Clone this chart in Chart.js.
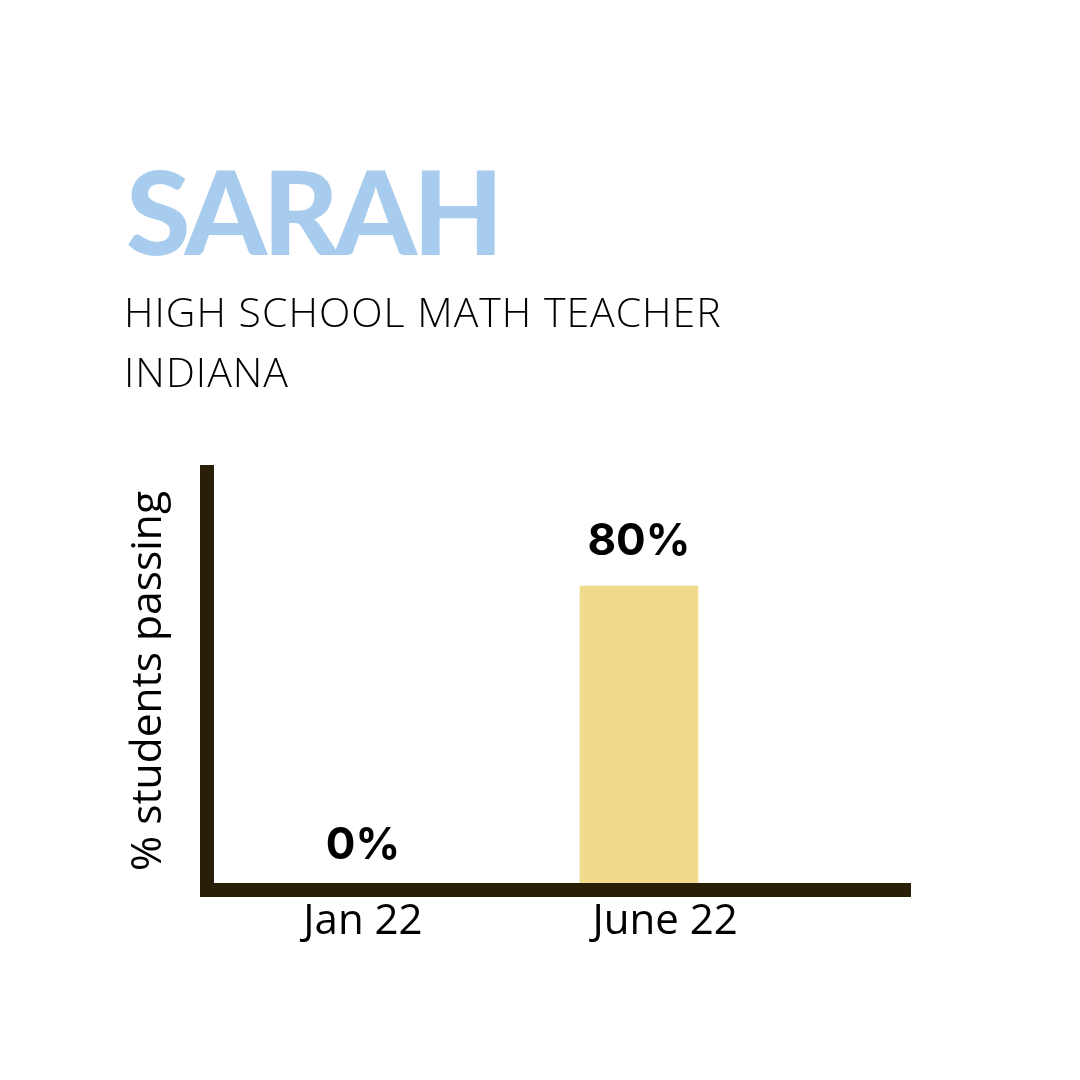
<!DOCTYPE html>
<html>
<head>
<meta charset="utf-8">
<script src="https://cdn.jsdelivr.net/npm/chart.js@4.4.1/dist/chart.umd.min.js"></script>
<style>
  html, body { margin:0; padding:0; background:#ffffff; }
  #wrap { position:relative; width:1080px; height:1080px; overflow:hidden; background:#fff; }
  #chart { position:absolute; left:0; top:0; }
  #name { position:absolute; left:126px; top:152px; font-family:Lato, sans-serif; font-weight:900;
          font-size:117px; line-height:1; color:#a8ccee; letter-spacing:-4px; white-space:nowrap; }
  #sub { position:absolute; left:124px; top:281px; font-family:"Open Sans", sans-serif; font-weight:300;
         font-size:41px; line-height:60px; color:#000; letter-spacing:1px; white-space:nowrap; }
</style>
</head>
<body>
<div id="wrap">
  <canvas id="chart" width="1080" height="1080"></canvas>
  <div id="name">SARAH</div>
  <div id="sub">HIGH SCHOOL MATH TEACHER<br>INDIANA</div>
</div>
<script>
const categories = ["Jan 22", "June 22"];
const values = [0, 80];
const valueLabels = ["0%", "80%"];
const yTitle = "% students passing";

const AXIS = "#291e07";
const BAR = "#f0da8c";
// small per-label horizontal nudge (in category units) to match the hand-placed tick labels
const tickNudge = [0, 0.095];

const valueLabelPlugin = {
  id: "valueLabels",
  afterDatasetsDraw(chart) {
    const ctx = chart.ctx;
    const meta = chart.getDatasetMeta(0);
    ctx.save();
    ctx.font = "700 44px Inter, sans-serif";
    ctx.fillStyle = "#000";
    ctx.textAlign = "center";
    ctx.textBaseline = "alphabetic";
    meta.data.forEach((el, i) => {
      ctx.fillText(valueLabels[i], el.x, el.y - 31);
    });
    ctx.restore();
  }
};

function draw() {
  new Chart(document.getElementById("chart"), {
    type: "bar",
    data: {
      datasets: [{
        data: categories.map((c, i) => ({ x: i, y: values[i] })),
        backgroundColor: BAR,
        borderWidth: 0,
        barThickness: 118
      }]
    },
    options: {
      responsive: false,
      animation: false,
      layout: { padding: { top: 472, right: 170, left: 0, bottom: 0 } },
      plugins: { legend: { display: false }, tooltip: { enabled: false } },
      scales: {
        x: {
          type: "linear",
          offset: false,
          bounds: "data",
          min: -0.565,
          max: 1.982,
          grid: { display: false, drawTicks: false, offset: false },
          border: { display: true, color: AXIS, width: 14, z: 1 },
          afterBuildTicks: (s) => { s.ticks = categories.map((c, i) => ({ value: i + tickNudge[i], label: c })); },
          ticks: {
            callback: (v, i) => categories[i],
            font: { family: "'Open Sans', sans-serif", size: 42 },
            color: "#000",
            padding: 7,
            maxRotation: 0,
            autoSkip: false
          },
          afterFit: (s) => { s.height = 190; }
        },
        y: {
          min: 0,
          max: 110,
          grid: { display: false, drawTicks: false },
          border: { display: true, color: AXIS, width: 14, z: 1 },
          ticks: { display: false },
          title: {
            display: true,
            text: yTitle,
            font: { family: "'Open Sans', sans-serif", size: 42.5 },
            color: "#000",
            padding: { top: 123, bottom: 0 }
          },
          afterFit: (s) => { s.width = 207; }
        }
      }
    },
    plugins: [valueLabelPlugin]
  });
}

Promise.all([
  document.fonts.load('40px "Open Sans"'),
  document.fonts.load('300 39px "Open Sans"'),
  document.fonts.load('700 46px Inter'),
  document.fonts.load('900 117px Lato')
]).then(draw, draw);
</script>
</body>
</html>
